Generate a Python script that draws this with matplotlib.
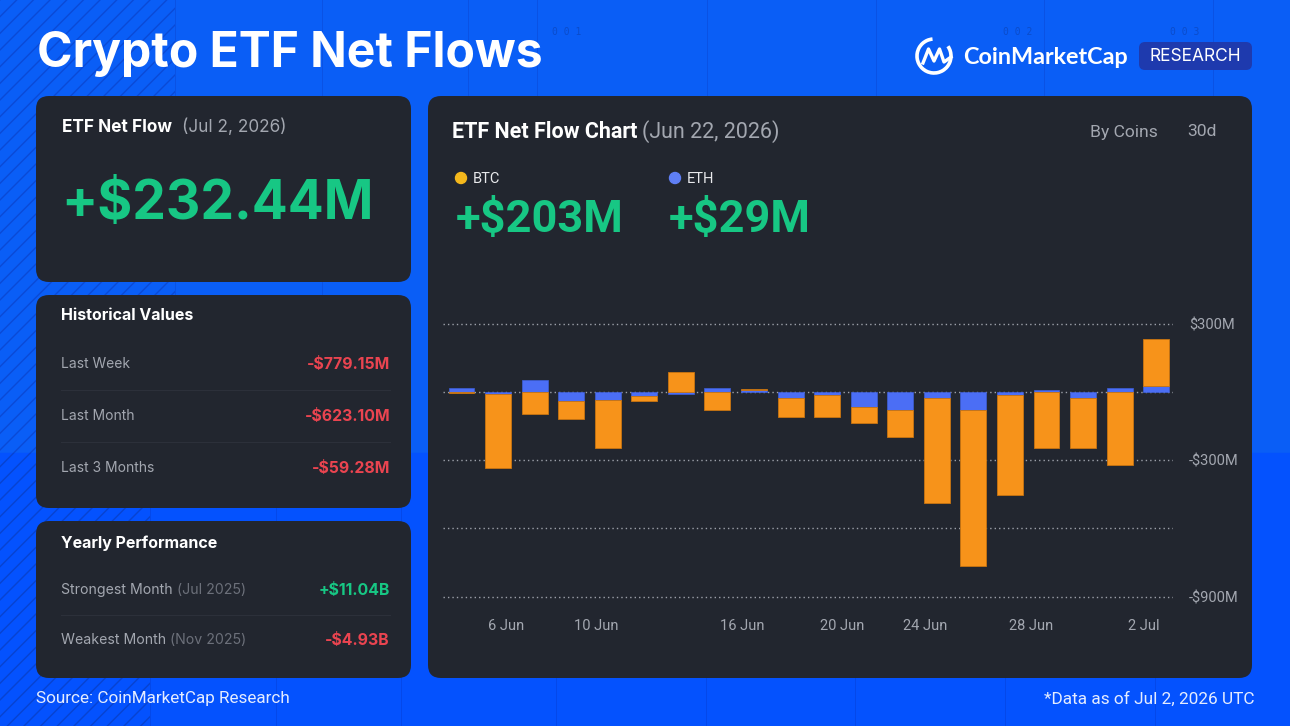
import numpy as np
import matplotlib
matplotlib.use("Agg")
import matplotlib.pyplot as plt
from matplotlib.patches import FancyBboxPatch, Rectangle, Arc, Circle

# daily net flows, $M
btc = [-2, -326, -95, -77, -214, -23, 88, -78, 4, -87,
       -97, -72, -119, -462, -685, -440, -244, -220, -319, 203]
eth = [20, -10, 55, -40, -34, -16, -8, 20, 11, -24,
       -13, -66, -80, -28, -80, -12, 10, -28, 16, 29]

tick_labels = ["6 Jun", "10 Jun", "16 Jun", "20 Jun", "24 Jun", "28 Jun", "2 Jul"]
tick_pos = [1.22, 3.68, 7.67, 10.4, 12.67, 15.57, 18.66]

y_ticks = [300, -300, -900]
y_tick_labels = ["$300M", "-$300M", "-$900M"]
grid_vals = [300, 0, -300, -600, -900]

net_flow = "+$232.44M"
btc_total = "+$203M"
eth_total = "+$29M"

hist_labels = ["Last Week", "Last Month", "Last 3 Months"]
hist_values = ["-$779.15M", "-$623.10M", "-$59.28M"]

year_labels = ["Strongest Month", "Weakest Month"]
year_dates = ["(Jul 2025)", "(Nov 2025)"]
year_values = ["+$11.04B", "-$4.93B"]

# colours
BLUE_TOP = "#0A5EF6"
BLUE_BOT = "#0452FE"
PANEL = "#22262F"
GRAY = "#A3A7B0"
GREEN = "#17C784"
RED = "#EA4450"
ORANGE = "#F7931A"
ETHBLUE = "#4B6EF5"

W, H = 1290, 726
fig = plt.figure(figsize=(W / 100, H / 100), dpi=100)
bg = fig.add_axes([0, 0, 1, 1])
bg.set_xlim(0, W)
bg.set_ylim(H, 0)
bg.axis("off")

# background
bg.add_patch(Rectangle((0, 0), W, H, color=BLUE_TOP, zorder=0))
bg.add_patch(Rectangle((0, 453), W, H - 453, color=BLUE_BOT, zorder=0))
plt.rcParams["hatch.linewidth"] = 1.0
bg.add_patch(Rectangle((0, 0), 175, 453, facecolor="none", edgecolor="#0A4AD6",
                       hatch="//", linewidth=0, zorder=0.5))
bg.add_patch(Rectangle((0, 453), 150, H - 453, facecolor="none", edgecolor="#0843D0",
                       hatch="//", linewidth=0, zorder=0.5))
for x in [175, 322, 468, 537, 707, 876, 1044, 1213]:
    bg.plot([x, x], [0, 453], color="#0A52E4", lw=0.7, zorder=0.6)
for x in [150, 276, 401, 556, 706, 855, 1005, 1155]:
    bg.plot([x, x], [453, H], color="#0548EA", lw=0.7, zorder=0.6)
for x, s in [(567, "0 0 1"), (1018, "0 0 2"), (1185, "0 0 3")]:
    bg.text(x, 32, s, color="#0A4CCB", fontsize=7, family="DejaVu Sans Mono",
            ha="center", va="center", zorder=0.7)


def panel(x0, y0, x1, y1):
    bg.add_patch(FancyBboxPatch((x0, y0), x1 - x0, y1 - y0,
                                boxstyle="round,pad=0,rounding_size=13",
                                facecolor=PANEL, edgecolor="none", zorder=1))


panel(36, 96, 411, 282)
panel(36, 295, 411, 508)
panel(36, 521, 411, 678)
panel(428, 96, 1252, 678)

fig.canvas.draw()
rend = fig.canvas.get_renderer()


def after(t, gap):
    # x position (pixels) just right of text t
    bb = t.get_window_extent(rend)
    return bb.x1 + gap


# title and logo
bg.text(37, 54, "Crypto ETF Net Flows", color="white", fontsize=34.6,
        family="Inter", weight="bold", va="center", zorder=3)
bg.add_patch(Arc((934, 56), 34, 34, theta1=-35, theta2=265, color="white", lw=2.6, zorder=3))
bg.plot([923, 928.5, 934, 939.5, 944, 951], [63, 49, 61, 49, 62, 57],
        color="white", lw=2.4, solid_joinstyle="round", zorder=3)
bg.text(963, 57, "CoinMarketCap", color="white", fontsize=16.8,
        family="Lato", weight="bold", va="center", zorder=3)
bg.add_patch(FancyBboxPatch((1139, 42), 113, 28, boxstyle="round,pad=0,rounding_size=6",
                            facecolor="#1E3AAE", edgecolor="none", zorder=2))
bg.text(1195.5, 56.5, "RESEARCH", color="white", fontsize=12.5, family="Inter",
        ha="center", va="center", zorder=3)

# net flow panel
t = bg.text(62, 127, "ETF Net Flow", color="white", fontsize=12.4, family="Inter",
            weight="bold", va="center", zorder=3)
fig.canvas.draw()
bg.text(after(t, 10), 127, "(Jul 2, 2026)", color=GRAY, fontsize=12.4, family="Inter",
        va="center", zorder=3)
bg.text(61, 204, net_flow, color=GREEN, fontsize=38.4, family="Inter", weight="bold",
        va="center", zorder=3)

# historical values
bg.text(61, 316, "Historical Values", color="white", fontsize=11.5, family="Inter",
        weight="bold", va="center", zorder=3)
for i, (lab, val) in enumerate(zip(hist_labels, hist_values)):
    y = 364 + 52 * i
    bg.text(61, y, lab, color=GRAY, fontsize=10, family="Inter", va="center", zorder=3)
    bg.text(390, y, val, color=RED, fontsize=11.4, family="Inter", weight="bold",
            ha="right", va="center", zorder=3)
    if i < len(hist_labels) - 1:
        bg.plot([61, 390], [y + 26, y + 26], color="#2C303A", lw=0.8, zorder=2)

# yearly performance
bg.text(61, 543, "Yearly Performance", color="white", fontsize=11.5, family="Inter",
        weight="bold", va="center", zorder=3)
for i, (lab, d, val) in enumerate(zip(year_labels, year_dates, year_values)):
    y = 590 + 50 * i
    t = bg.text(61, y, lab, color=GRAY, fontsize=10.2, family="Inter", va="center", zorder=3)
    fig.canvas.draw()
    bg.text(after(t, 4), y, d, color="#6C707A", fontsize=10.2, family="Inter",
            va="center", zorder=3)
    bg.text(390, y, val, color=GREEN if val.startswith("+") else RED, fontsize=11.4,
            family="Inter", weight="bold", ha="right", va="center", zorder=3)
    if i == 0:
        bg.plot([61, 390], [y + 25, y + 25], color="#2C303A", lw=0.8, zorder=2)

# chart panel header
t = bg.text(452, 132, "ETF Net Flow Chart", color="white", fontsize=15.5,
            family="Roboto", weight="bold", va="center", zorder=3)
fig.canvas.draw()
bg.text(after(t, 5), 132, "(Jun 22, 2026)", color=GRAY, fontsize=15.5,
        family="Roboto", va="center", zorder=3)
bg.text(1158, 132, "By Coins", color=GRAY, fontsize=12.6, family="Roboto",
        ha="right", va="center", zorder=3)
bg.text(1217, 132, "30d", color=GRAY, fontsize=12.6, family="Roboto",
        ha="right", va="center", zorder=3)

bg.add_patch(Circle((461, 178), 5.5, color="#F5B81C", zorder=3))
bg.text(473, 179, "BTC", color="#E8E9EC", fontsize=10.5, family="Roboto", va="center", zorder=3)
bg.add_patch(Circle((675, 178), 5.5, color="#5F7FF5", zorder=3))
bg.text(687, 179, "ETH", color="#E8E9EC", fontsize=10.5, family="Roboto", va="center", zorder=3)
bg.text(456, 220, btc_total, color=GREEN, fontsize=32.5, family="Roboto", weight="bold",
        va="center", zorder=3)
bg.text(669, 220, eth_total, color=GREEN, fontsize=32.5, family="Roboto", weight="bold",
        va="center", zorder=3)

# footer
bg.text(36, 699, "Source: CoinMarketCap Research", color="#E4ECFF", fontsize=12.3,
        family="Roboto", va="center", zorder=3)
bg.text(1254, 699, "*Data as of Jul 2, 2026 UTC", color="#E4ECFF", fontsize=12.4,
        family="Roboto", ha="right", va="center", zorder=3)

# bar chart
ax = fig.add_axes([443 / W, 1 - 605 / H, (1173 - 443) / W, (605 - 310) / H])
ax.set_facecolor("none")
ax.set_zorder(5)
x = np.arange(len(btc))
b = np.array(btc, dtype=float)
e = np.array(eth, dtype=float)
bottom = np.where(np.sign(b) == np.sign(e), e, 0.0)
for v in grid_vals:
    ax.axhline(v, color="#9DA1AA", lw=1.0, ls=(0, (1, 2.2)), zorder=1)
ax.bar(x, e, width=0.71, color=ETHBLUE, edgecolor="#3E5FD8", linewidth=0.5, zorder=2)
ax.bar(x, b, bottom=bottom, width=0.71, color=ORANGE, edgecolor="#C97410",
       linewidth=0.6, zorder=2)
ax.set_xlim(-0.506, 19.46)
ax.set_ylim(-937.4, 361.6)
ax.set_xticks(tick_pos)
ax.set_xticklabels(tick_labels, family="Roboto", fontsize=10.5, color=GRAY)
ax.yaxis.tick_right()
ax.set_yticks(y_ticks)
ax.set_yticklabels(y_tick_labels, family="Roboto", fontsize=10.5, color=GRAY)
ax.tick_params(axis="x", length=0, pad=10)
ax.tick_params(axis="y", length=0, pad=11.5)
for s in ax.spines.values():
    s.set_visible(False)

fig.savefig("out.png", dpi=100)
